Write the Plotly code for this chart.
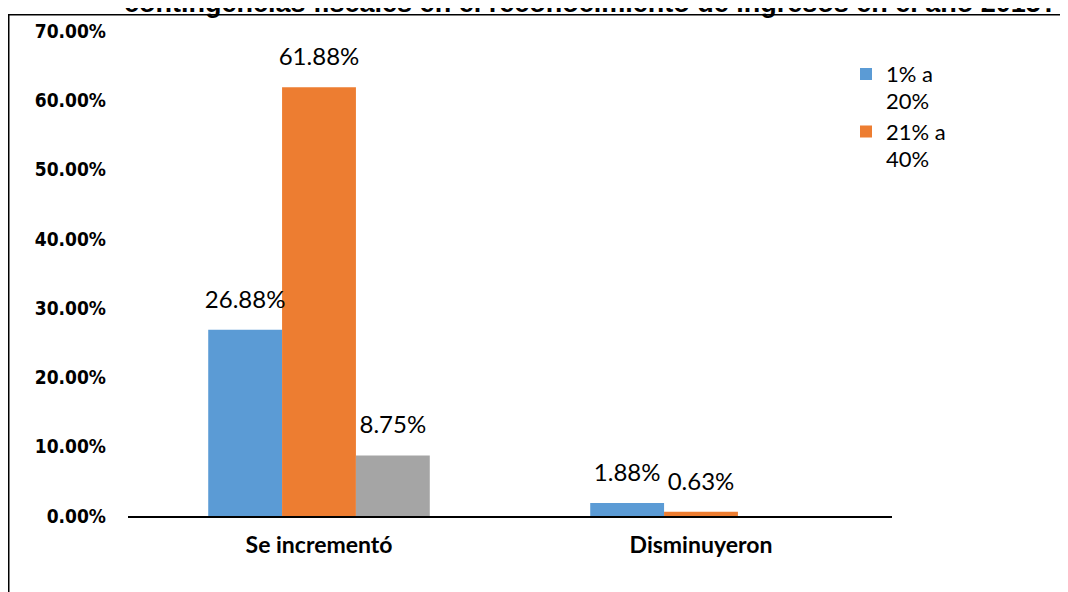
import plotly.graph_objects as go

categories = ["Se incrementó", "Disminuyeron"]
series_names = ["1% a<br>20%", "21% a<br>40%", "41% a 60%"]
series_values = [
    [0.2688, 0.0188],
    [0.6188, 0.0063],
    [0.0875, None],
]
series_colors = ["#5B9BD5", "#ED7D31", "#A5A5A5"]
series_in_legend = [True, True, False]
title_text = "contingencias fiscales en el reconocimiento de ingresos en el año 2015?"
y_ticks = [0, 0.1, 0.2, 0.3, 0.4, 0.5, 0.6, 0.7]

OFF = 8  # page body margin
W, H = 1068 - OFF, 592 - OFF
# plot area in page pixels: x 128..892, y 27..516
L, T = 128 - OFF, 27 - OFF
R = W - (892 - OFF)
B = H - (516 - OFF)
pw, ph = W - L - R, H - T - B

def px_x(p):
    return (p - OFF - L) / pw

def px_y(p):
    return (H - B - (p - OFF)) / ph

GAP = 0.42
fig = go.Figure()
for i, (name, vals, col, show) in enumerate(zip(series_names, series_values, series_colors, series_in_legend)):
    fig.add_trace(go.Bar(
        x=categories, y=vals, name="<span style='font-size:22px'>" + name + "</span>",
        marker_color=col, marker_line_width=0,
        showlegend=show, offsetgroup=str(i),
    ))
for i, vals in enumerate(series_values):
    fig.add_trace(go.Scatter(
        x=categories, y=vals, mode="markers+text", offsetgroup=str(i),
        marker=dict(size=24, opacity=0), showlegend=False, hoverinfo="skip",
        texttemplate="%{y:.2%}", textposition="top center", cliponaxis=False,
        textfont=dict(family="Lato", size=24, color="#000000"),
    ))

fig.update_layout(
    width=W, height=H,
    margin=dict(l=L, r=R, t=T, b=B),
    paper_bgcolor="white", plot_bgcolor="white",
    barmode="group", bargap=GAP, bargroupgap=0,
    scattermode="group", scattergap=GAP,
    showlegend=True,
    legend=dict(x=px_x(846), y=px_y(50), xanchor="left", yanchor="top",
                valign="top",
                font=dict(family="Lato", size=21, color="#000000"),
                bgcolor="rgba(0,0,0,0)", tracegroupgap=0),
    xaxis=dict(showline=True, linecolor="#000000", linewidth=2, ticks="",
               showgrid=False, ticklabelstandoff=7,
               tickfont=dict(family="Lato", size=23, color="#000000", weight="bold")),
    yaxis=dict(range=[0, 0.7], tickvals=y_ticks, tickformat=".2%",
               showgrid=False, zeroline=False, showline=False, ticks="",
               ticklabelstandoff=21,
               tickfont=dict(family="DejaVu Sans Condensed", size=19, color="#000000", weight="bold")),
    font=dict(family="Lato"),
    hovermode=False,
)

fig.add_annotation(
    xref="paper", yref="paper", x=px_x(590), y=px_y(16),
    xanchor="center", yanchor="bottom", showarrow=False,
    text="<b>" + title_text + "</b>",
    font=dict(family="Liberation Sans", size=27, color="#000000"),
)

fig.add_shape(type="rect", xref="paper", yref="paper",
              x0=px_x(8.75), x1=px_x(1100), y0=px_y(640), y1=px_y(10.5),
              line=dict(color="#000000", width=1.5), fillcolor="rgba(0,0,0,0)", layer="above")

fig.write_html("out.html")
